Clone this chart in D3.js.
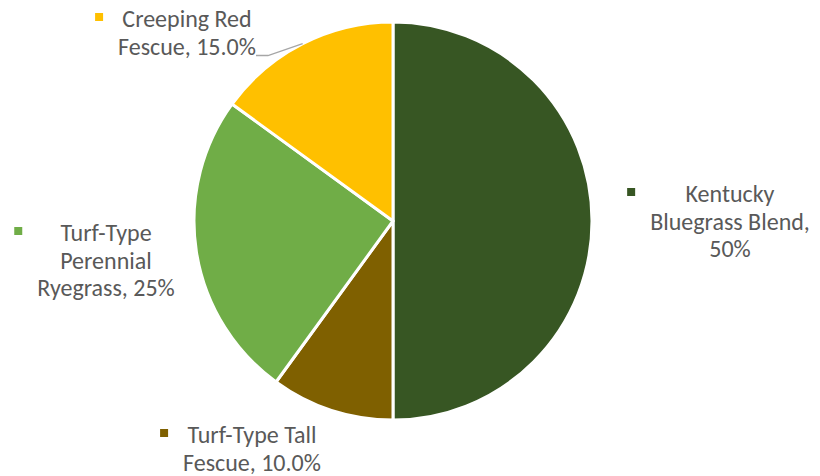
<!DOCTYPE html>
<html>
<head>
<meta charset="utf-8">
<script src="https://cdn.jsdelivr.net/npm/d3@7"></script>
<style>
  html, body { margin: 0; padding: 0; background: #fff; }
  svg { display: block; }
  text { font-family: Carlito, Calibri, Lato, "Open Sans", sans-serif; fill: #595959; }
</style>
</head>
<body>
<svg id="chart" width="820" height="476"></svg>
<script>
// ---- data ----
const categories = ["Kentucky Bluegrass Blend", "Turf-Type Tall Fescue", "Turf-Type Perennial Ryegrass", "Creeping Red Fescue"];
const values = [50, 10, 25, 15];
const labelLines = [
  ["Kentucky", "Bluegrass Blend,", "50%"],
  ["Turf-Type Tall", "Fescue, 10.0%"],
  ["Turf-Type", "Perennial", "Ryegrass, 25%"],
  ["Creeping Red", "Fescue, 15.0%"]
];
const colors = ["#375623", "#7F6000", "#70AD47", "#FFC000"];

// ---- layout ----
const width = 820, height = 476;
const cx = 393, cy = 221, radius = 199;
const fontSize = 24, lineH = 27.5;
// label placement: text centre x and first baseline y
const labelPos = [
  { x: 730, y: 202 },
  { x: 252, y: 443 },
  { x: 106, y: 241 },
  { x: 187, y: 27 }
];

const svg = d3.select("#chart");
const g = svg.append("g").attr("transform", `translate(${cx},${cy})`);

const pie = d3.pie().sort(null).value(d => d)(values);
const arc = d3.arc().innerRadius(0).outerRadius(radius);

g.selectAll("path.slice")
  .data(pie)
  .enter().append("path")
  .attr("class", "slice")
  .attr("d", arc)
  .attr("fill", (d, i) => colors[i])
  .attr("stroke", "#fff")
  .attr("stroke-width", 3)
  .attr("stroke-linejoin", "round");

// labels
labelLines.forEach((lines, i) => {
  const p = labelPos[i];
  const lg = svg.append("g");
  let maxW = 0;
  lines.forEach((ln, k) => {
    const t = lg.append("text")
      .attr("x", p.x)
      .attr("y", p.y + k * lineH)
      .attr("text-anchor", "middle")
      .attr("font-size", fontSize)
      .text(ln);
    maxW = Math.max(maxW, t.node().getComputedTextLength());
  });
  const mx = p.x - maxW / 2 - 15 - 8;
  lg.append("rect")
    .attr("x", mx)
    .attr("y", p.y - 14)
    .attr("width", 8)
    .attr("height", 8)
    .attr("fill", colors[i]);
});

// leader line for Creeping Red Fescue
const cr = pie[3];
const midA = (cr.startAngle + cr.endAngle) / 2;
const edge = [cx + Math.sin(midA) * radius, cy - Math.cos(midA) * radius];
svg.append("polyline")
  .attr("points", `256,55.5 268,55.5 ${edge[0]},${edge[1]}`)
  .attr("fill", "none")
  .attr("stroke", "#A6A6A6")
  .attr("stroke-width", 1.3);
</script>
</body>
</html>
